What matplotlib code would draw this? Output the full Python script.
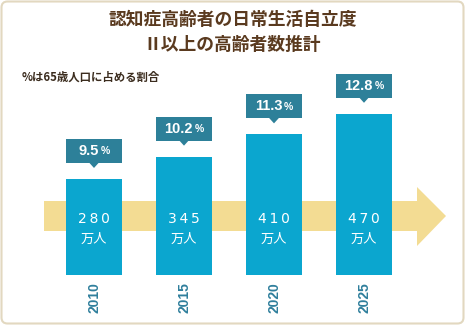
import matplotlib
matplotlib.use("Agg")
import matplotlib.pyplot as plt
from matplotlib.patches import FancyBboxPatch, Polygon, Rectangle

plt.rcParams['font.family'] = ['Noto Sans CJK JP', 'DejaVu Sans']

# data
years = ["2010", "2015", "2020", "2025"]
people = [280, 345, 410, 470]          # 万人
share = ["9.5", "10.2", "11.3", "12.8"]  # %
title = "認知症高齢者の日常生活自立度\nⅡ以上の高齢者数推計"
note = "%は65歳人口に占める割合"

brown = "#5a3a1f"
bar_col = "#0ba6cf"
box_col = "#2d8099"
year_col = "#2f7f9c"
band_col = "#f3dc93"
sans = ["Liberation Sans", "DejaVu Sans"]

W, H = 465, 325
fig = plt.figure(figsize=(W / 100, H / 100), dpi=100)

# background layer in pixel coordinates
bg = fig.add_axes([0, 0, 1, 1])
bg.set_xlim(0, W)
bg.set_ylim(H, 0)
bg.axis("off")
bg.add_patch(FancyBboxPatch((1.5, 1.5), W - 3, H - 3, boxstyle="round,pad=0,rounding_size=6",
                            fc="white", ec="#e2d8c0", lw=1.5))
# yellow arrow
bg.add_patch(Rectangle((44, 201), 374, 30, fc=band_col, ec="none"))
bg.add_patch(Polygon([(417, 187), (446, 216), (417, 246)], closed=True, fc=band_col, ec="none"))

bg.text(W / 2, 20, title.split("\n")[0], ha="center", va="center", fontsize=12.8,
        fontweight="bold", color=brown)
bg.text(W / 2, 45, title.split("\n")[1], ha="center", va="center", fontsize=12.8,
        fontweight="bold", color=brown)
bg.text(22, 77, note, ha="left", va="center", fontsize=8.2, fontweight="bold", color="#3b2c1e")

# bar layer: baseline at y=275 px, 0.343 px per 万人
px_per_unit = 0.343
ax_top = 60
ax = fig.add_axes([0, (H - 275) / H, 1, (275 - ax_top) / H])
ax.set_xlim(-94 / 90, (W - 94) / 90)
ax.set_ylim(0, (275 - ax_top) / px_per_unit)
ax.axis("off")
ax.patch.set_alpha(0)
ax.set_zorder(1)

x = range(len(years))
bw = 56 / 90
ax.bar(x, people, width=bw, color=bar_col, zorder=2)

u = 1 / px_per_unit  # data units per pixel
renderer = fig.canvas.get_renderer()
for i, (v, s, yr) in enumerate(zip(people, share, years)):
    # value label at fixed height on the arrow band
    ax.text(i, (275 - 219) * u, "\u2009".join(str(v)), ha="center", va="center", color="white",
            fontsize=10, family=["DejaVu Sans"], zorder=5)
    ax.text(i, (275 - 239) * u, "万人", ha="center", va="center", color="white",
            fontsize=9.5, zorder=5)
    # percentage box with pointer
    b0 = v + 16 * u
    ax.add_patch(Rectangle((i - bw / 2, b0), bw, 24 * u, fc=box_col, ec="none", zorder=3))
    ax.add_patch(Polygon([(i - 5 / 90, b0 + 0.5 * u), (i + 5 / 90, b0 + 0.5 * u), (i, b0 - 5 * u)],
                         closed=True, fc=box_col, ec="none", zorder=3))
    t1 = ax.text(i, b0 + 12 * u, s, ha="left", va="center", color="white",
                 fontsize=10.5, fontweight="bold", family=sans, zorder=4)
    t2 = ax.text(i, b0 + 11.5 * u, "%", ha="left", va="center", color="white",
                 fontsize=7.5, fontweight="bold", family=sans, zorder=4)
    w1 = t1.get_window_extent(renderer).width
    w2 = t2.get_window_extent(renderer).width
    gap = 2
    start = -(w1 + gap + w2) / 2
    t1.set_x(i + start / 90)
    t2.set_x(i + (start + w1 + gap) / 90)
    # year label under the bar
    ax.text(i, -23 * u, yr, ha="center", va="center", rotation=90, color=year_col,
            fontsize=10, fontweight="bold", family=sans, clip_on=False)

fig.savefig("out.png", dpi=100)
